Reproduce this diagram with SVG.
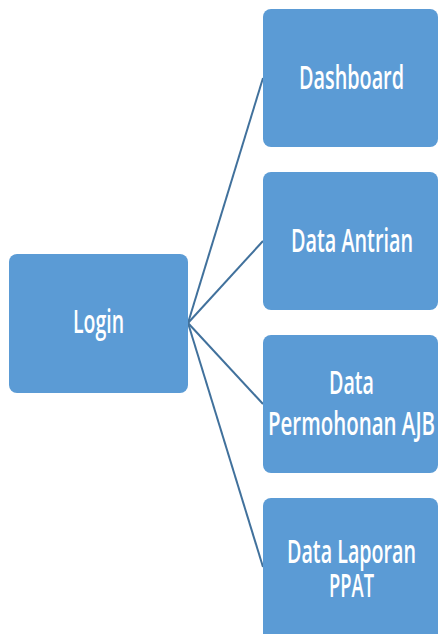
<svg xmlns="http://www.w3.org/2000/svg" width="439" height="634" viewBox="0 0 439 634">
<style>
.box{fill:#5B9BD5;}
.t{fill:#fff;font-family:"Open Sans","Noto Sans",sans-serif;font-size:32px;font-weight:600;}
.c{stroke:#41719C;stroke-width:2;fill:none;}
</style>
<rect width="439" height="634" fill="#fff"/>
<g id="connectors">
<line class="c" x1="188" y1="323" x2="263" y2="78"/>
<line class="c" x1="188" y1="323" x2="263" y2="241"/>
<line class="c" x1="188" y1="323" x2="263" y2="404"/>
<line class="c" x1="188" y1="323" x2="263" y2="567"/>
</g>
<g id="login">
<rect class="box" x="9" y="254" width="179" height="139" rx="8"/>
<text class="t" x="73" y="333" textLength="51" lengthAdjust="spacingAndGlyphs">Login</text>
</g>
<g id="dashboard">
<rect class="box" x="263" y="9" width="175" height="138" rx="8"/>
<text class="t" x="299" y="89" textLength="105" lengthAdjust="spacingAndGlyphs">Dashboard</text>
</g>
<g id="data-antrian">
<rect class="box" x="263" y="172" width="175" height="138" rx="8"/>
<text class="t" x="291" y="252" textLength="122" lengthAdjust="spacingAndGlyphs">Data Antrian</text>
</g>
<g id="data-permohonan">
<rect class="box" x="263" y="335" width="175" height="138" rx="8"/>
<text class="t" x="329" y="394" textLength="45" lengthAdjust="spacingAndGlyphs">Data</text>
<text class="t" x="268" y="435" textLength="167" lengthAdjust="spacingAndGlyphs">Permohonan AJB</text>
</g>
<g id="data-laporan">
<rect class="box" x="263" y="498" width="175" height="145" rx="8"/>
<text class="t" x="287" y="563" textLength="129" lengthAdjust="spacingAndGlyphs">Data Laporan</text>
<text class="t" x="329" y="597" textLength="45" lengthAdjust="spacingAndGlyphs">PPAT</text>
</g>
</svg>
